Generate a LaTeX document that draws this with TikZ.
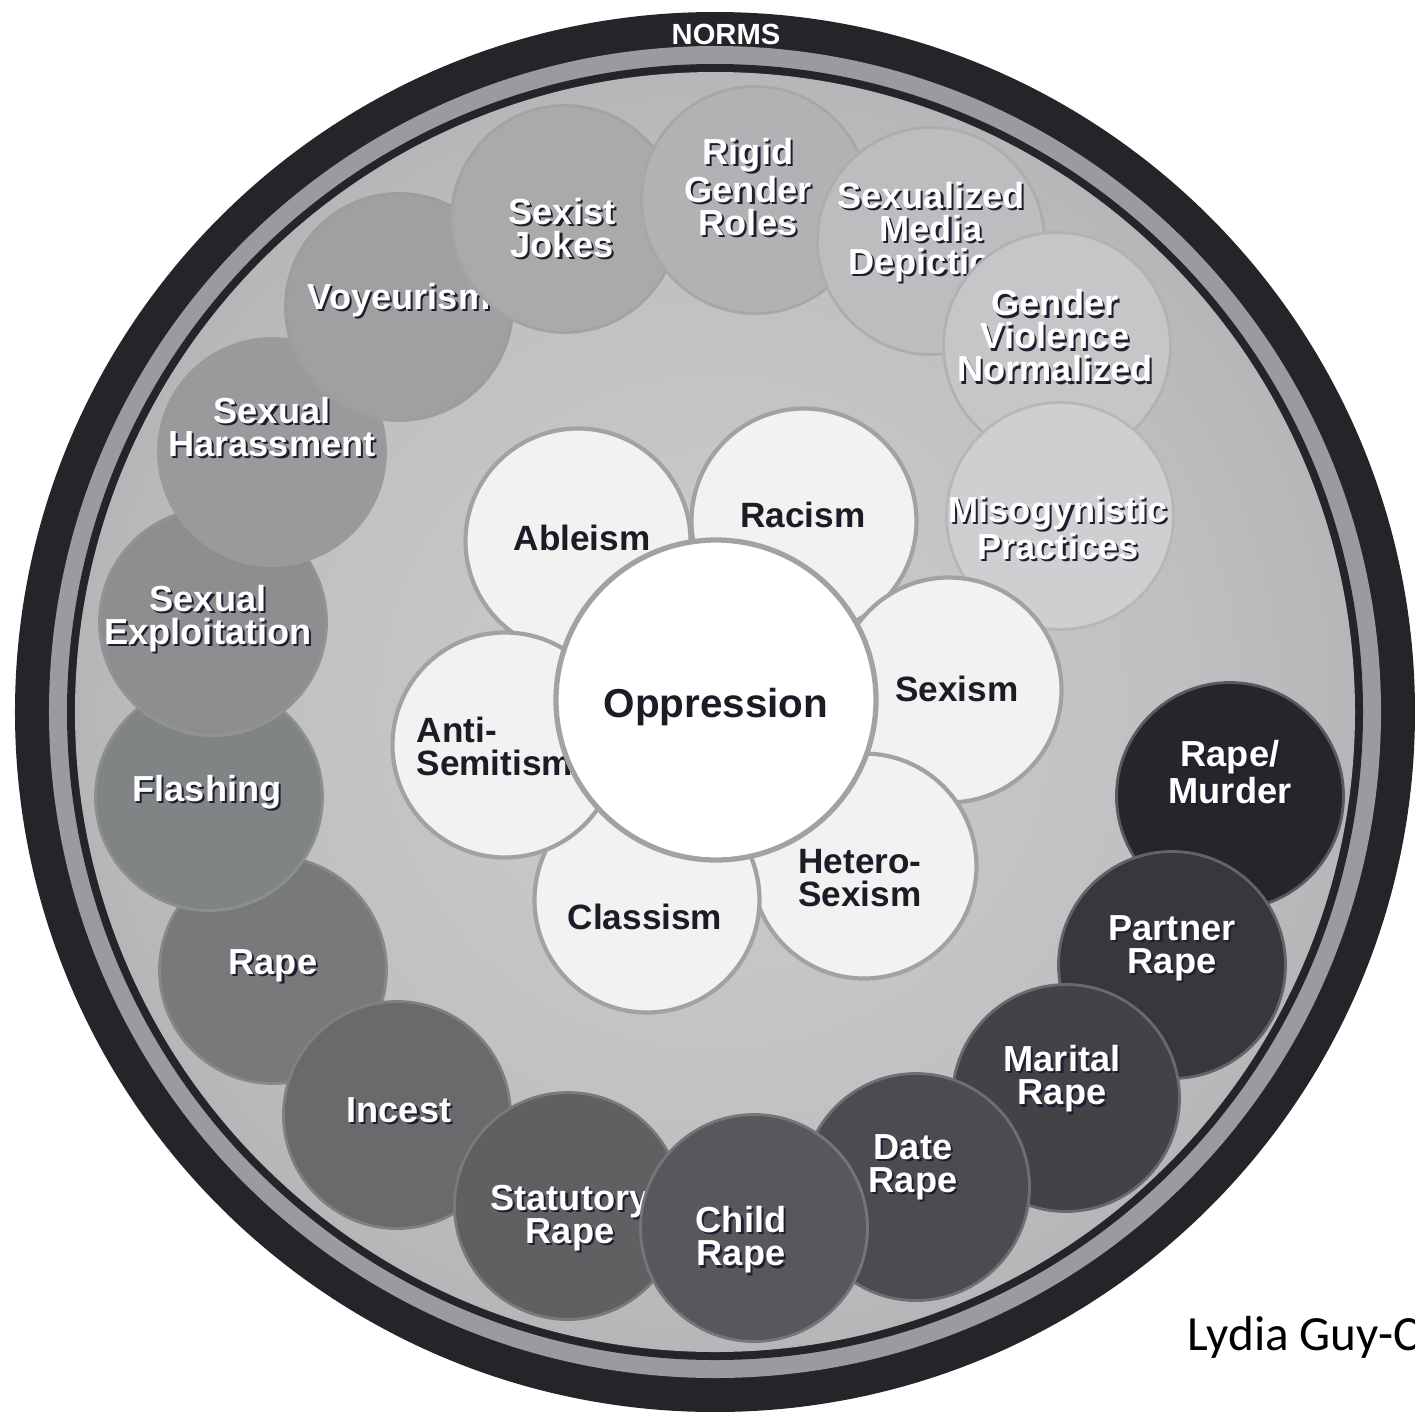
\documentclass[tikz,border=0pt]{standalone}
\usepackage{fontspec}
\setmainfont{Liberation Sans}
\newfontfamily\creditfont{Carlito}
\usetikzlibrary{positioning}

\definecolor{normdark}{HTML}{242529}
\definecolor{normband}{HTML}{9A9B9E}
\definecolor{innerlight}{HTML}{CDCDCF}
\definecolor{innermid}{HTML}{C0C0C2}
\definecolor{innergray}{HTML}{A6A7A9}
\definecolor{innerdark}{HTML}{8E8F93}
\definecolor{rimgray}{HTML}{9A9A9D}
\definecolor{petalfill}{HTML}{F2F2F2}
\definecolor{petalrim}{HTML}{A2A2A4}
\definecolor{inktext}{HTML}{1C1C26}
\definecolor{shadowink}{HTML}{1E1E30}
% fills of the outer ring, light to dark
\definecolor{cmiso}{HTML}{CFCFD1}
\definecolor{cgender}{HTML}{C6C6C8}
\definecolor{cmedia}{HTML}{BDBDBF}
\definecolor{crigid}{HTML}{B2B2B4}
\definecolor{cjokes}{HTML}{A9ABAB}
\definecolor{cvoy}{HTML}{A0A0A3}
\definecolor{charass}{HTML}{9A9A9D}
\definecolor{cexploit}{HTML}{8C8E90}
\definecolor{cflash}{HTML}{818485}
\definecolor{crape}{HTML}{77797A}
\definecolor{cincest}{HTML}{6A6A6D}
\definecolor{cstat}{HTML}{606063}
\definecolor{cchild}{HTML}{58585C}
\definecolor{cdate}{HTML}{4C4C50}
\definecolor{cmarital}{HTML}{434347}
\definecolor{cpartner}{HTML}{37373C}
\definecolor{cmurder}{HTML}{25262B}

\pgfdeclareradialshading{normshade}{\pgfpoint{0bp}{0bp}}{color(0bp)=(innerlight); color(18bp)=(innermid); color(36bp)=(innergray); color(50bp)=(innerdark)}

% white label with a dark shadow
\newcommand{\normlabel}[3]{%
    \node[ringshadow] (#1-s) at (#2) {#3};
    \node[ringlbl] (#1) at (#2) {#3};
}

\begin{document}
\begin{tikzpicture}[
    outer/.style={circle, fill=#1, draw=#1!55!rimgray, line width=0.8pt, minimum size=2.27cm, inner sep=0pt},
    petal/.style={circle, draw=petalrim, line width=1.2pt, fill=petalfill, minimum size=2.25cm, inner sep=0pt},
    ringlbl/.style={text=white, font=\bfseries\fontsize{10.3}{9.4}\selectfont, align=center, inner sep=0pt},
    ringshadow/.style={ringlbl, text=shadowink, xshift=0.6pt, yshift=-0.6pt},
    petallbl/.style={text=inktext, font=\bfseries\fontsize{10}{9.4}\selectfont, align=center, inner sep=0pt}
]
    \useasboundingbox (-7.15,-6.99) rectangle (7.00,7.12);
    \clip (-7.15,-6.99) rectangle (7.00,7.12);
    \fill[white] (-7.15,-6.99) rectangle (7.00,7.12);

    % the norms ring
    \fill[normdark] (0,0) circle (7.00);
    \fill[normband] (0,0) circle (6.66);
    \fill[normdark] (0,0) circle (6.48);
    \shade[shading=normshade] (0,0) circle (6.40);
    \node[text=white, font=\bfseries\fontsize{8.3}{8.3}\selectfont, inner sep=0pt] (norms) at (0.11,6.78) {NORMS};

    % outer circles, left side from the bottom up
    \node[outer=crape] (rape) at (-4.42,-2.58) {};
    \normlabel{rape-t}{-4.42,-2.54}{Rape}
    \node[outer=cflash] (flash) at (-5.06,-0.85) {};
    \normlabel{flash-t}{-5.08,-0.80}{Flashing}
    \node[outer=cexploit] (exploit) at (-5.02,0.90) {};
    \normlabel{exploit-t}{-5.07,0.93}{Sexual\\Exploitation}
    \node[outer=charass] (harass) at (-4.43,2.60) {};
    \normlabel{harass-t}{-4.43,2.85}{Sexual\\Harassment}
    \node[outer=cvoy] (voy) at (-3.16,4.05) {};
    \normlabel{voy-t}{-3.16,4.12}{Voyeurism}
    % top, going right
    \node[outer=cjokes] (jokes) at (-1.50,4.93) {};
    \normlabel{jokes-t}{-1.53,4.84}{Sexist\\Jokes}
    \node[outer=crigid] (rigid) at (0.40,5.12) {};
    \normlabel{rigid-t}{0.33,5.25}{Rigid\\Gender\\Roles}
    \node[outer=cmedia] (media) at (2.16,4.71) {};
    \normlabel{media-t}{2.16,4.80}{Sexualized\\Media\\Depiction}
    \node[outer=cgender] (gender) at (3.42,3.66) {};
    \normlabel{gender-t}{3.40,3.76}{Gender\\Violence\\Normalized}
    \node[outer=cmiso] (miso) at (3.45,1.96) {};
    \normlabel{miso-t}{3.43,1.84}{Misogynistic\\Practices}
    % right side, going down
    \node[outer=cmurder] (murder) at (5.15,-0.84) {};
    \normlabel{murder-t}{5.15,-0.60}{Rape/\\Murder}
    \node[outer=cpartner] (partner) at (4.57,-2.53) {};
    \normlabel{partner-t}{4.57,-2.36}{Partner\\Rape}
    \node[outer=cmarital] (marital) at (3.51,-3.86) {};
    \normlabel{marital-t}{3.47,-3.67}{Marital\\Rape}
    \node[outer=cdate] (date) at (2.01,-4.75) {};
    \normlabel{date-t}{1.98,-4.55}{Date\\Rape}
    % bottom left, going right
    \node[outer=cincest] (incest) at (-3.18,-4.03) {};
    \normlabel{incest-t}{-3.16,-3.98}{Incest}
    \node[outer=cstat] (stat) at (-1.47,-4.94) {};
    \normlabel{stat-t}{-1.45,-5.06}{Statutory\\Rape}
    \node[outer=cchild] (child) at (0.39,-5.16) {};
    \normlabel{child-t}{0.26,-5.28}{Child\\Rape}

    % the flower of oppressions
    \node[petal] (able) at (-1.37,1.71) {};
    \node[petallbl] (able-t) at (-1.33,1.74) {Ableism};
    \node[petal] (racism) at (0.89,1.91) {};
    \node[petallbl] (racism-t) at (0.88,1.97) {Racism};
    \node[petal] (sexism) at (2.34,0.22) {};
    \node[petallbl] (sexism-t) at (2.42,0.23) {Sexism};
    \node[petal] (hetero) at (1.49,-1.54) {};
    \node[petallbl, align=left] (hetero-t) at (1.45,-1.66) {Hetero-\\Sexism};
    \node[petal] (class) at (-0.68,-1.88) {};
    \node[petallbl] (class-t) at (-0.70,-2.05) {Classism};
    \node[petal] (anti) at (-2.10,-0.33) {};
    \node[petallbl, align=left, anchor=west] (anti-t) at (-2.99,-0.34) {Anti-\\Semitism};
    \node[circle, draw=petalrim, line width=1.5pt, fill=white, minimum size=3.20cm, inner sep=0pt] (opp) at (0.01,0.12) {};
    \node[text=inktext, font=\bfseries\fontsize{11.5}{11.5}\selectfont, inner sep=0pt] (opp-t) at (0.01,0.05) {Oppression};

    \node[font=\creditfont\fontsize{14}{14}\selectfont, anchor=base west, inner sep=0pt] (credit) at (4.72,-6.38) {Lydia Guy-C};
\end{tikzpicture}
\end{document}
